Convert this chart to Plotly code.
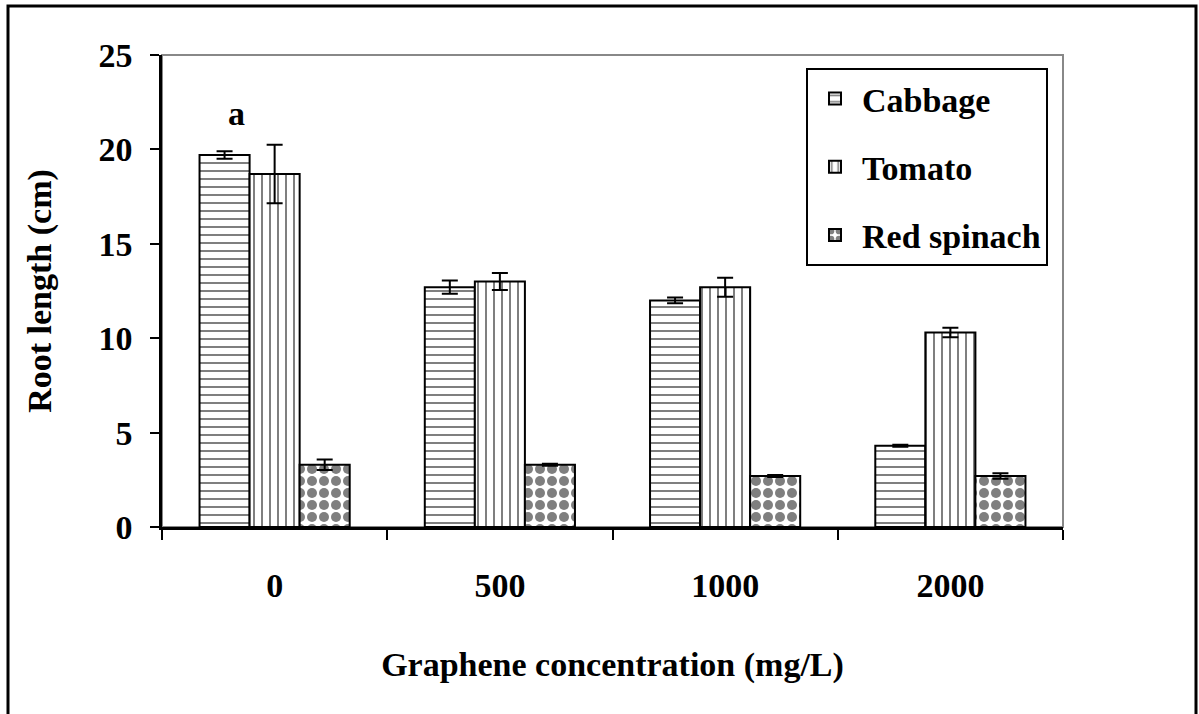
import plotly.graph_objects as go

categories = ["0", "500", "1000", "2000"]
series_names = ["Cabbage", "Tomato", "Red spinach"]
cabbage = [19.7, 12.7, 12.0, 4.3]
cabbage_err = [0.2, 0.35, 0.15, 0.05]
tomato = [18.7, 13.0, 12.7, 10.3]
tomato_err = [1.55, 0.45, 0.5, 0.25]
spinach = [3.3, 3.3, 2.7, 2.7]
spinach_err = [0.28, 0.05, 0.05, 0.15]
y_ticks = [0, 5, 10, 15, 20, 25]

W, H = 1199, 714
L, R, T, B = 162, 1063, 55, 527
FONT = "Liberation Serif, Times New Roman, serif"
FS = 34

def px_x(p):
    return (p - L) / (R - L)

def px_y(p):
    return (B - p) / (B - T)

fig = go.Figure()
patterns = [
    dict(shape="-", size=8, solidity=0.25, fgcolor="black", bgcolor="white"),
    dict(shape="|", size=8, solidity=0.25, fgcolor="black", bgcolor="white"),
    dict(shape=".", size=12, solidity=0.55, fgcolor="black", bgcolor="white"),
]
for name, vals, errs, pat in zip(series_names, [cabbage, tomato, spinach],
                                 [cabbage_err, tomato_err, spinach_err], patterns):
    fig.add_trace(go.Bar(
        x=categories, y=vals, name=name, legendgroup=name,
        marker=dict(color="white", pattern=pat, line=dict(color="black", width=2)),
        error_y=dict(type="data", array=errs, color="black", thickness=2, width=8),
    ))

fig.update_layout(
    width=W, height=H,
    margin=dict(l=L, r=W - R, t=T, b=H - B, autoexpand=False),
    paper_bgcolor="white", plot_bgcolor="white",
    barmode="group", bargap=1/3, bargroupgap=0,
    font=dict(family=FONT, size=FS, color="black", weight=700),
    showlegend=True,
    legend=dict(
        x=px_x(1048), y=px_y(68), xanchor="right", yanchor="top",
        bordercolor="black", borderwidth=2, bgcolor="white",
        traceorder="grouped", tracegroupgap=21, itemwidth=44,
        font=dict(family=FONT, size=FS, color="black", weight=700),
    ),
    xaxis=dict(
        type="category", categoryorder="array", categoryarray=categories,
        automargin=False,
        showline=True, linecolor="black", linewidth=2.5,
        ticks="outside", tickson="boundaries", ticklen=10, tickwidth=2, tickcolor="black",
        ticklabelstandoff=26,
        showgrid=False, zeroline=False,
        title=dict(text="Graphene concentration (mg/L)", standoff=50,
                   font=dict(family=FONT, size=FS, color="black", weight=700)),
    ),
    yaxis=dict(
        range=[0, 25], tickvals=y_ticks, automargin=False,
        showline=True, linecolor="black", linewidth=2.5,
        ticks="outside", ticklen=9, tickwidth=2, tickcolor="black",
        ticklabelstandoff=11,
        showgrid=False, zeroline=False,
        title=dict(text="Root length (cm)", standoff=37,
                   font=dict(family=FONT, size=FS, color="black", weight=700)),
    ),
    shapes=[
        dict(type="rect", xref="paper", yref="paper", x0=0, x1=1, y0=0, y1=1,
             line=dict(color="#888888", width=2), layer="below"),
        dict(type="rect", xref="paper", yref="paper",
             x0=px_x(8), x1=px_x(1196), y0=px_y(740), y1=px_y(6),
             line=dict(color="black", width=3)),
    ],
    annotations=[
        dict(text="a", xref="x", yref="paper", x=categories[0], xshift=-38,
             y=px_y(113), yanchor="middle", xanchor="center", showarrow=False,
             font=dict(family=FONT, size=FS, color="black", weight=700)),
    ],
)

fig.write_html("out.html", config={"displayModeBar": False},
               post_script="document.body.style.margin='0px';")
